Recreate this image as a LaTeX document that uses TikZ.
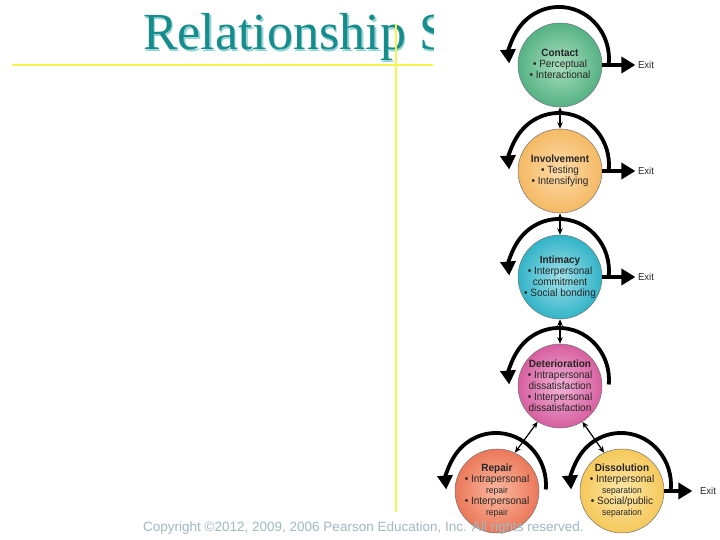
\documentclass[tikz,border=0pt]{standalone}
\usepackage{fontspec}
\setmainfont{Liberation Serif}
\newfontfamily\stagefont[FakeStretch=0.95]{Liberation Sans}
\newfontfamily\plainsans{Liberation Sans}
\usetikzlibrary{arrows.meta,calc}
\definecolor{titleteal}{RGB}{22,140,140}
\definecolor{titleshade}{RGB}{150,212,212}
\definecolor{guideyellow}{RGB}{245,245,80}
\definecolor{copygray}{RGB}{160,185,195}
\definecolor{gout}{RGB}{85,178,132}
\definecolor{gin}{RGB}{170,222,190}
\definecolor{oout}{RGB}{245,185,100}
\definecolor{oin}{RGB}{252,220,170}
\definecolor{cout}{RGB}{50,180,200}
\definecolor{cin}{RGB}{160,224,232}
\definecolor{pout}{RGB}{215,95,160}
\definecolor{pin}{RGB}{242,178,214}
\definecolor{sout}{RGB}{235,120,90}
\definecolor{sin}{RGB}{250,185,160}
\definecolor{yout}{RGB}{245,200,90}
\definecolor{yin}{RGB}{252,232,170}
\newcommand\stageloop[1]{\draw[loopline] ($(#1)+(48.8,1.5)$) arc[start angle=-5,end angle=185,x radius=50,y radius=52];}
\newcommand\minorline[1]{{\fontsize{9}{11}\selectfont #1}}
\begin{document}
\begin{tikzpicture}[x=1pt,y=1pt,
  stage/.style={circle,minimum size=84pt,inner sep=0pt,draw=black!55,line width=0.5pt},
  stagetext/.style={align=center,inner sep=0pt,text=black!85,font=\stagefont\fontsize{10.5}{11}\selectfont},
  loopline/.style={line width=3.8pt,-{Triangle[length=14pt,width=15pt]}},
  exitarrow/.style={line width=4pt,-{Triangle[length=14pt,width=16pt]}},
  exitlabel/.style={inner sep=2.5pt,text=black!85,font=\stagefont\fontsize{10}{11}\selectfont},
  conn/.style={line width=1.2pt,{Stealth[length=6.5pt,width=5.5pt]}-{Stealth[length=6.5pt,width=5.5pt]}},
  yline/.style={guideyellow,line width=2pt}]
\useasboundingbox (0,0) rectangle (720,540);
\fill[white] (0,0) rectangle (720,540);
% title (cut by the picture at its right)
\begin{scope}
\clip (0,0) rectangle (433,540);
\node[anchor=base west,inner sep=0pt,text=titleshade,font=\fontsize{52}{52}\selectfont] (titleshadow) at (144.5,488.5) {Relationship S};
\node[anchor=base west,inner sep=0pt,text=titleteal,font=\fontsize{52}{52}\selectfont] (title) at (143,490) {Relationship S};
\end{scope}
\draw[yline] (12,475) -- (433,475);
\draw[yline] (396,516) -- (396,28);
% stages
\stageloop{560,475}
\node[stage,inner color=gin,outer color=gout] (contact) at (560,475) {};
\node[stagetext] (contactT) at (560,476) {\textbf{Contact}\\• Perceptual\\• Interactional};
\stageloop{560,369}
\node[stage,inner color=oin,outer color=oout] (involvement) at (560,369) {};
\node[stagetext] (involvementT) at (560,369) {\textbf{Involvement}\\• Testing\\• Intensifying};
\stageloop{560,263}
\node[stage,inner color=cin,outer color=cout] (intimacy) at (560,263) {};
\node[stagetext] (intimacyT) at (560,263) {\textbf{Intimacy}\\• Interpersonal\\commitment\\• Social bonding};
\stageloop{560,154}
\node[stage,inner color=pin,outer color=pout] (deterioration) at (560,154) {};
\node[stagetext] (deteriorationT) at (560,154) {\textbf{Deterioration}\\• Intrapersonal\\dissatisfaction\\• Interpersonal\\dissatisfaction};
\stageloop{497,49}
\node[stage,inner color=sin,outer color=sout] (repair) at (497,49) {};
\node[stagetext] (repairT) at (497,49) {\textbf{Repair}\\• Intrapersonal\\\minorline{repair}\\• Interpersonal\\\minorline{repair}};
\stageloop{622,49}
\node[stage,inner color=yin,outer color=yout] (dissolution) at (622,49) {};
\node[stagetext] (dissolutionT) at (622,49) {\textbf{Dissolution}\\• Interpersonal\\\minorline{separation}\\• Social/public\\\minorline{separation}};
% exits
\node[exitlabel] (exit1) at (646,475) {Exit};
\node[exitlabel] (exit2) at (646,369) {Exit};
\node[exitlabel] (exit3) at (646,263) {Exit};
\node[exitlabel] (exit4) at (708,49) {Exit};
\draw[exitarrow] (contact.east) -- (exit1.west);
\draw[exitarrow] (involvement.east) -- (exit2.west);
\draw[exitarrow] (intimacy.east) -- (exit3.west);
\draw[exitarrow,shorten >=5pt] (dissolution.east) -- (exit4.west);
% connectors
\draw[conn] (contact.south) -- (involvement.north);
\draw[conn] (involvement.south) -- (intimacy.north);
\draw[conn] (intimacy.south) -- (deterioration.north);
\draw[conn] (deterioration.238) -- (repair.65);
\draw[conn] (deterioration.302) -- (dissolution.115);
% copyright
\node[anchor=base west,inner sep=0pt,text=copygray,font=\plainsans\fontsize{13.5}{14}\selectfont] (copyright) at (143,8) {Copyright ©2012, 2009, 2006 Pearson Education, Inc. All rights reserved.};
\end{tikzpicture}
\end{document}
